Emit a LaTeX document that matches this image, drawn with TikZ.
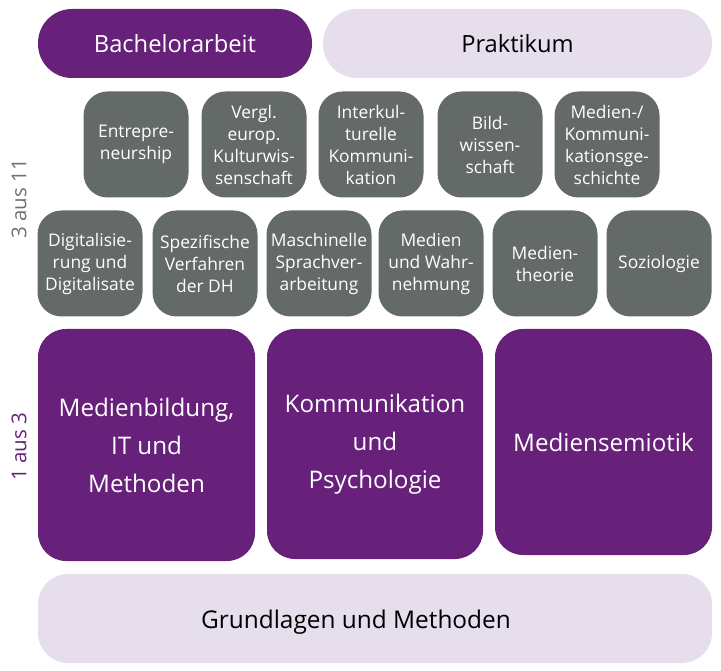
\documentclass[tikz,border=0pt]{standalone}
\usepackage{fontspec}
\setmainfont{Open Sans}
\definecolor{unipurple}{HTML}{68217A}
\definecolor{unililac}{HTML}{E6DDED}
\definecolor{unigray}{HTML}{646A68}
\definecolor{labelgray}{HTML}{707070}
\begin{document}
\begin{tikzpicture}[x=1pt,y=-1pt,
    pill/.style={rounded corners=34pt,inner sep=0pt,minimum height=69pt,font=\fontsize{23.7}{28}\selectfont},
    modbox/.style={fill=unigray,text=white,rounded corners=24pt,inner sep=0pt,minimum width=105pt,minimum height=106pt,align=center,font=\fontsize{17.4}{22}\selectfont},
    areabox/.style={fill=unipurple,text=white,rounded corners=28pt,inner sep=0pt,minimum width=217pt,align=center,font=\fontsize{24.2}{38}\selectfont},
    sidelabel/.style={rotate=90,inner sep=0pt,font=\fontsize{20.5}{24}\selectfont}]
  \useasboundingbox (0,0) rectangle (721,671);

  % top row
  \node[pill,fill=unipurple,text=white,minimum width=274pt] (ba) at (175,43.5) {Bachelorarbeit};
  \node[pill,fill=unililac,minimum width=389pt] (prak) at (517.5,43.5) {Praktikum};

  % wahlmodule, 3 aus 11
  \node[modbox] (entre) at (136,144.5) {Entrepre-\\neurship};
  \node[modbox] (kultur) at (254,144.5) {Vergl.\\europ.\\Kulturwis-\\senschaft};
  \node[modbox] (inter) at (371,144.5) {Interkul-\\turelle\\Kommuni-\\kation};
  \node[modbox] (bild) at (490,144.5) {Bild-\\wissen-\\schaft};
  \node[modbox] (gesch) at (607,144.5) {Medien-/\\Kommuni-\\kationsge-\\schichte};

  \node[modbox] (digi) at (90,263.5) {Digitalisie-\\rung und\\Digitalisate};
  \node[modbox] (dh) at (205,263.5) {Spezifische\\Verfahren\\der DH};
  \node[modbox] (sprach) at (319,263.5) {Maschinelle\\Sprachver-\\arbeitung};
  \node[modbox] (wahr) at (431,263.5) {Medien\\und Wahr-\\nehmung};
  \node[modbox] (theorie) at (545,263.5) {Medien-\\theorie};
  \node[modbox] (sozio) at (659,263.5) {Soziologie};

  % schwerpunkte, 1 aus 3
  \node[areabox,minimum height=232pt] (bildung) at (146.5,445) {Medienbildung,\\IT und\\Methoden};
  \node[areabox,minimum width=216pt,minimum height=230pt] (psych) at (375,444) {Kommunikation\\und\\Psychologie};
  \node[areabox,minimum height=226pt] (semio) at (603.5,442) {Mediensemiotik};

  % basis
  \node[fill=unililac,rounded corners=30pt,inner sep=0pt,minimum width=674pt,minimum height=89pt] (grund) at (375,618.5) {};
  \node[inner sep=0pt,font=\fontsize{24.4}{28}\selectfont] (grundtext) at (356,622) {Grundlagen und Methoden};

  \node[sidelabel,text=labelgray] (drei) at (19,199) {3 aus 11};
  \node[sidelabel,text=unipurple] (eins) at (19,447) {1 aus 3};
\end{tikzpicture}
\end{document}
